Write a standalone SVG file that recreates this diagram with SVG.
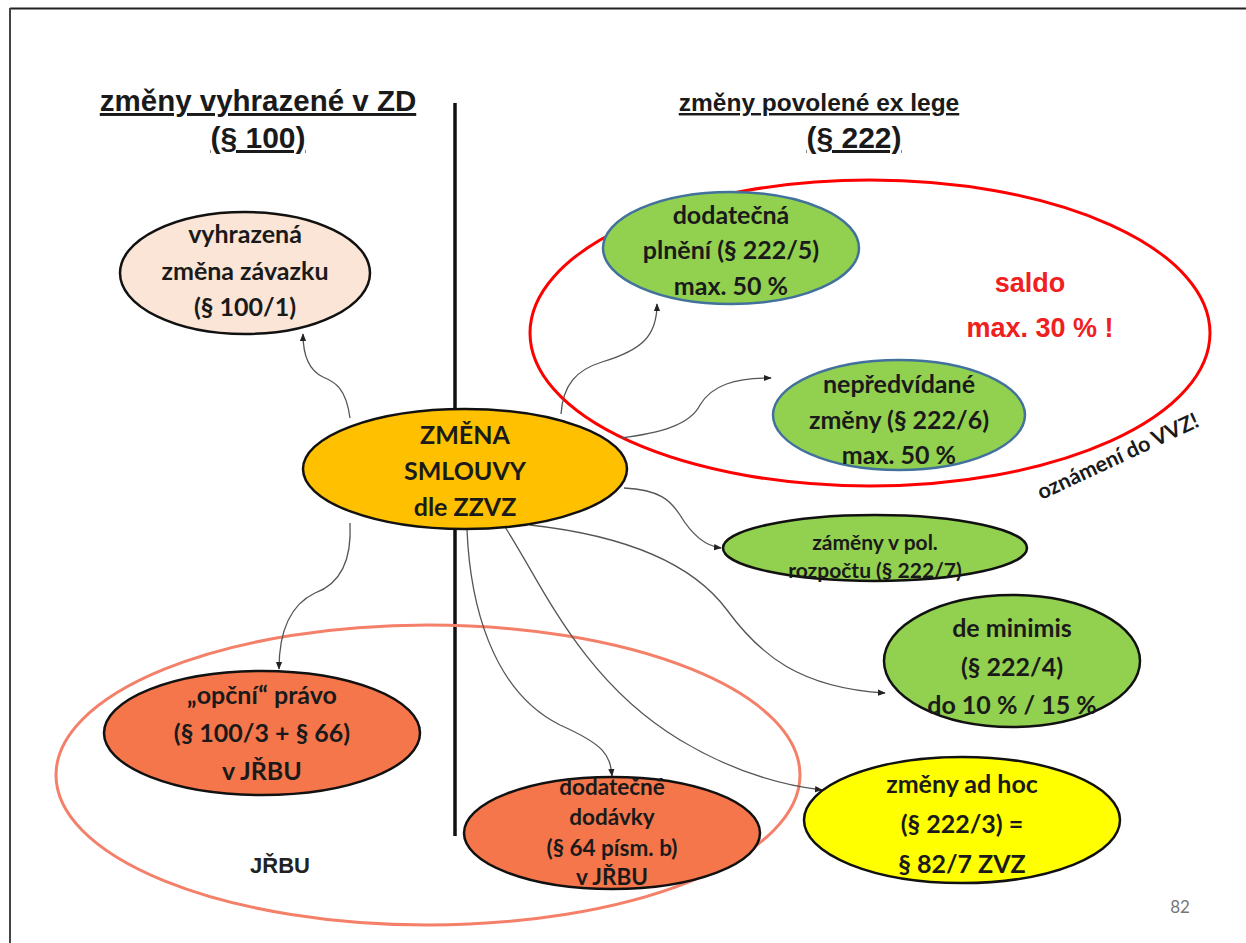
<svg xmlns="http://www.w3.org/2000/svg" width="1246" height="943" viewBox="0 0 1246 943">
<defs>
<marker id="arr" viewBox="0 0 10 10" refX="9" refY="5" markerWidth="6" markerHeight="6" orient="auto">
<path d="M0,1 L10,5 L0,9 z" fill="#222"/>
</marker>
<style>
.head{font-family:"Liberation Sans",Arial,sans-serif;font-weight:bold;fill:#1a1a1a;text-decoration:underline;text-anchor:middle}
.nt{font-family:Lato,"Open Sans",sans-serif;font-weight:bold;fill:#1a1a1a;text-anchor:middle}
.big{font-size:25px}
.small{font-size:21px}
.mid{font-size:22.5px}
.ol{stroke:#111;stroke-width:2.5}
.green{fill:#92D050;stroke:#41719C;stroke-width:2.5}
.conn{fill:none;stroke:#555;stroke-width:1.3;marker-end:url(#arr)}
</style>
</defs>
<rect width="1246" height="943" fill="#fff"/>
<g id="frame">
<line x1="10" y1="8.5" x2="1246" y2="8.5" stroke="#222" stroke-width="2"/>
<line x1="10" y1="8" x2="10" y2="943" stroke="#444" stroke-width="2"/>
</g>
<g id="headings">
<text class="head" x="258" y="111" font-size="29.5">změny vyhrazené v ZD</text>
<text class="head" x="258" y="148" font-size="30">(§ 100)</text>
<text class="head" x="819" y="111" font-size="24.5">změny povolené ex lege</text>
<text class="head" x="854" y="148" font-size="30">(§ 222)</text>
</g>
<g id="divider">
<line x1="455" y1="103" x2="455" y2="836" stroke="#111" stroke-width="3.5"/>
</g>
<g id="group-jrbu">
<ellipse cx="428" cy="775" rx="372" ry="150" fill="none" stroke="#F4806A" stroke-width="3"/>
<text x="280" y="873" font-family="Liberation Sans,Arial,sans-serif" font-weight="bold" font-size="22" fill="#222" text-anchor="middle">JŘBU</text>
</g>
<g id="group-saldo">
<ellipse cx="870" cy="333" rx="340" ry="153" fill="none" stroke="#FF0000" stroke-width="3"/>
<text x="1030" y="292" font-family="Liberation Sans,Arial,sans-serif" font-weight="bold" font-size="27" fill="#F02020" text-anchor="middle">saldo</text>
<text x="1040" y="337" font-family="Liberation Sans,Arial,sans-serif" font-weight="bold" font-size="27" fill="#F02020" text-anchor="middle">max. 30 % !</text>
<text transform="translate(1121,463) rotate(-25)" font-family="Lato,sans-serif" font-weight="bold" font-size="21.5" fill="#1a1a1a" text-anchor="middle">oznámení do VVZ!</text>
</g>
<g id="connectors">
<path class="conn" d="M350 418 C346 388 335 382 323 377 C308 370 303 355 303 334"/>
<path class="conn" d="M350 523 C352 562 340 584 315 593 C290 605 279 632 279 669"/>
<path class="conn" d="M561 414 C563 385 576 370 602 362 C642 350 657 336 657 304"/>
<path class="conn" d="M621 438 C660 433 690 425 700 405 C712 385 735 378 771 378"/>
<path class="conn" d="M624 488 C660 490 670 500 680 515 C692 535 705 546 721 548"/>
<path class="conn" d="M530 525 C620 535 690 560 727 610 C760 655 800 688 885 693"/>
<path class="conn" d="M505 527 C540 580 580 680 680 740 C730 770 780 785 822 790"/>
<path class="conn" d="M467 530 C470 600 490 690 560 725 C605 745 610 755 612 776"/>
</g>
<g id="node-vyhrazena">
<ellipse cx="245" cy="273" rx="125" ry="61" fill="#FBE5D6" class="ol"/>
<text class="nt big" x="245" y="243">vyhrazená</text>
<text class="nt big" x="245" y="280">změna závazku</text>
<text class="nt big" x="245" y="316">(§ 100/1)</text>
</g>
<g id="node-zmena">
<ellipse cx="465" cy="469" rx="162" ry="60" fill="#FFC000" class="ol"/>
<text class="nt big" x="465" y="444">ZMĚNA</text>
<text class="nt big" x="465" y="480">SMLOUVY</text>
<text class="nt big" x="465" y="516">dle ZZVZ</text>
</g>
<g id="node-dodatecna-plneni">
<ellipse cx="731" cy="248" rx="128" ry="56" class="green"/>
<text class="nt big" x="731" y="224">dodatečná</text>
<text class="nt big" x="731" y="259">plnění (§ 222/5)</text>
<text class="nt big" x="731" y="295">max. 50 %</text>
</g>
<g id="node-nepredvidane">
<ellipse cx="899" cy="415" rx="126" ry="55" class="green"/>
<text class="nt big" x="899" y="393">nepředvídané</text>
<text class="nt big" x="899" y="429">změny (§ 222/6)</text>
<text class="nt big" x="899" y="464">max. 50 %</text>
</g>
<g id="node-zameny">
<ellipse cx="875" cy="548" rx="152" ry="33" fill="#92D050" class="ol"/>
<text class="nt small" x="875" y="550">záměny v pol.</text>
<text class="nt small" x="875" y="578">rozpočtu (§ 222/7)</text>
</g>
<g id="node-de-minimis">
<ellipse cx="1012" cy="661" rx="128" ry="66" fill="#92D050" class="ol"/>
<text class="nt big" x="1012" y="637">de minimis</text>
<text class="nt big" x="1012" y="676">(§ 222/4)</text>
<text class="nt big" x="1012" y="714">do 10 % / 15 %</text>
</g>
<g id="node-ad-hoc">
<ellipse cx="962" cy="820" rx="158" ry="63" fill="#FFFF00" class="ol"/>
<text class="nt big" x="962" y="793">změny ad hoc</text>
<text class="nt big" x="962" y="833">(§ 222/3) =</text>
<text class="nt big" x="962" y="873">§ 82/7 ZVZ</text>
</g>
<g id="node-opcni">
<ellipse cx="262" cy="733" rx="158" ry="62" fill="#F5764A" class="ol"/>
<text class="nt big" x="262" y="704">„opční“ právo</text>
<text class="nt big" x="262" y="742">(§ 100/3 + § 66)</text>
<text class="nt big" x="262" y="780">v JŘBU</text>
</g>
<g id="node-dodavky">
<ellipse cx="612" cy="833" rx="148" ry="56" fill="#F5764A" class="ol"/>
<text class="nt mid" x="612" y="795">dodatečné</text>
<text class="nt mid" x="612" y="825">dodávky</text>
<text class="nt mid" x="612" y="856">(§ 64 písm. b)</text>
<text class="nt mid" x="612" y="885">v JŘBU</text>
</g>
<g id="page-number">
<text x="1180" y="913" font-family="Lato,sans-serif" font-size="17" fill="#777" text-anchor="middle">82</text>
</g>
</svg>
